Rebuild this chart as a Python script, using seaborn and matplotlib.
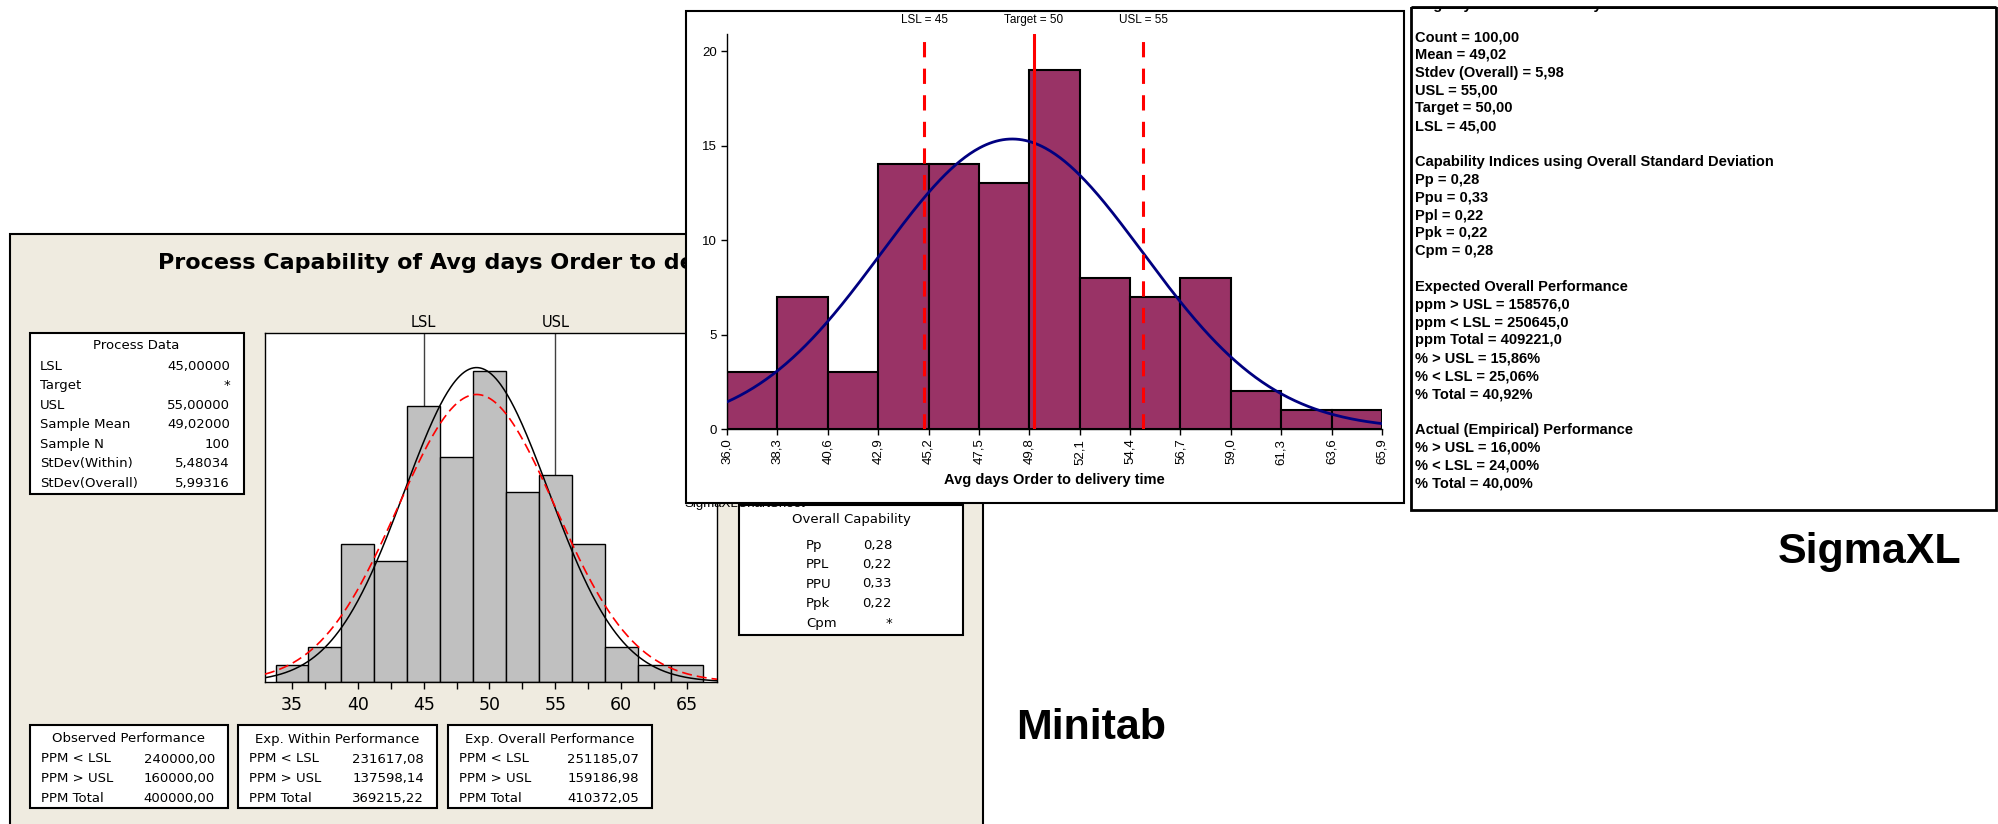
import matplotlib
matplotlib.use("Agg")
import matplotlib.pyplot as plt
import numpy as np
import pandas as pd
import seaborn as sns
from matplotlib.patches import Rectangle
from matplotlib.transforms import blended_transform_factory

W, H = 1998, 824

# --- Minitab capability data ---
mt_midpoints = [35, 37.5, 40, 42.5, 45, 47.5, 50, 52.5, 55, 57.5, 60, 62.5, 65]
mt_counts = [1, 2, 8, 7, 16, 13, 18, 11, 12, 8, 2, 1, 1]
mt_bin_width = 2.5
mt_ticks = [35, 40, 45, 50, 55, 60, 65]
mt_mean = 49.02
mt_sd_within = 5.48034
mt_sd_overall = 5.99316
mt_n = 100

process_labels = ["LSL", "Target", "USL", "Sample Mean", "Sample N", "StDev(Within)", "StDev(Overall)"]
process_values = ["45,00000", "*", "55,00000", "49,02000", "100", "5,48034", "5,99316"]

overall_cap_labels = ["Pp", "PPL", "PPU", "Ppk", "Cpm"]
overall_cap_values = ["0,28", "0,22", "0,33", "0,22", "*"]

perf_titles = ["Observed Performance", "Exp. Within Performance", "Exp. Overall Performance"]
perf_labels = ["PPM < LSL", "PPM > USL", "PPM Total"]
perf_values = [
    ["240000,00", "160000,00", "400000,00"],
    ["231617,08", "137598,14", "369215,22"],
    ["251185,07", "159186,98", "410372,05"],
]

# --- SigmaXL capability data ---
lsl, target, usl = 45, 50, 55
sx_edges = [36.0, 38.3, 40.6, 42.9, 45.2, 47.5, 49.8, 52.1, 54.4, 56.7, 59.0, 61.3, 63.6, 65.9]
sx_counts = [3, 7, 3, 14, 14, 13, 19, 8, 7, 8, 2, 1, 1]
sx_mean = 49.02
sx_sd = 5.98
sx_n = 100
sx_yticks = [0, 5, 10, 15, 20]

sx_report_title = "Avg days Order to delivery time"
sx_report = [
    "Count = 100,00",
    "Mean = 49,02",
    "Stdev (Overall) = 5,98",
    "USL = 55,00",
    "Target = 50,00",
    "LSL = 45,00",
    "",
    "Capability Indices using Overall Standard Deviation",
    "Pp = 0,28",
    "Ppu = 0,33",
    "Ppl = 0,22",
    "Ppk = 0,22",
    "Cpm = 0,28",
    "",
    "Expected Overall Performance",
    "ppm > USL = 158576,0",
    "ppm < LSL = 250645,0",
    "ppm Total = 409221,0",
    "% > USL = 15,86%",
    "% < LSL = 25,06%",
    "% Total = 40,92%",
    "",
    "Actual (Empirical) Performance",
    "% > USL = 16,00%",
    "% < LSL = 24,00%",
    "% Total = 40,00%",
]

MT_FONT = "DejaVu Sans"
SX_FONT = "Liberation Sans"
BEIGE = "#EFEBE0"
PLUM = "#993366"


def px_axes(fig, x0, y0, x1, y1, zorder):
    return fig.add_axes([x0 / W, 1 - y1 / H, (x1 - x0) / W, (y1 - y0) / H], zorder=zorder)


def pixel_layer(fig, zorder):
    ax = px_axes(fig, 0, 0, W, H, zorder)
    ax.set_xlim(0, W)
    ax.set_ylim(H, 0)
    ax.axis("off")
    return ax


def box(ax, x0, y0, x1, y1, fc="white", lw=1.5, ec="black", zorder=1):
    ax.add_patch(Rectangle((x0, y0), x1 - x0, y1 - y0, facecolor=fc,
                           edgecolor=ec, linewidth=lw, clip_on=False, zorder=zorder))


def normal_curve(x, mean, sd, n, width):
    return n * width * np.exp(-0.5 * ((x - mean) / sd) ** 2) / (sd * np.sqrt(2 * np.pi))


sns.set_theme(style="ticks", rc={"text.color": "black", "axes.labelcolor": "black",
                                 "xtick.color": "black", "ytick.color": "black",
                                 "axes.edgecolor": "black"})
plt.rcParams["font.family"] = [SX_FONT, "DejaVu Sans"]

fig = plt.figure(figsize=(W / 100, H / 100), dpi=100, facecolor="white")

# ---------------- Minitab panel ----------------
bg = pixel_layer(fig, 0)
box(bg, 10, 234, 983, 840, fc=BEIGE)
bg.text(158, 269, "Process Capability of Avg days Order to delivery time", family=MT_FONT,
        fontsize=16, fontweight="bold", va="baseline", ha="left")

box(bg, 30, 333, 244, 494)
bg.text(136, 345, "Process Data", family=MT_FONT, fontsize=9.5, ha="center", va="center")
for i, (lab, val) in enumerate(zip(process_labels, process_values)):
    y = 366 + i * 19.5
    bg.text(40, y, lab, family=MT_FONT, fontsize=9.5, va="center", ha="left")
    bg.text(230, y, val, family=MT_FONT, fontsize=9.5, va="center", ha="right")

box(bg, 739, 505, 963, 635)
bg.text(851, 520, "Overall Capability", family=MT_FONT, fontsize=9.5, ha="center", va="center")
for i, (lab, val) in enumerate(zip(overall_cap_labels, overall_cap_values)):
    y = 545 + i * 19.5
    bg.text(806, y, lab, family=MT_FONT, fontsize=9.5, va="center", ha="left")
    bg.text(892, y, val, family=MT_FONT, fontsize=9.5, va="center", ha="right")

perf_boxes = [(30, 228), (238, 437), (448, 652)]
for (x0, x1), title, vals in zip(perf_boxes, perf_titles, perf_values):
    box(bg, x0, 725, x1, 808)
    bg.text((x0 + x1) / 2, 739, title, family=MT_FONT, fontsize=9.5, ha="center", va="center")
    for j, (lab, val) in enumerate(zip(perf_labels, vals)):
        y = 759 + j * 19.6
        bg.text(x0 + 11, y, lab, family=MT_FONT, fontsize=9.5, va="center", ha="left")
        bg.text(x1 - 13, y, val, family=MT_FONT, fontsize=9.5, va="center", ha="right")

bg.text(1016, 739, "Minitab", family=SX_FONT, fontsize=31, fontweight="bold", ha="left", va="baseline")
bg.text(1778, 563, "SigmaXL", family=SX_FONT, fontsize=31, fontweight="bold", ha="left", va="baseline")

ax_mt = px_axes(fig, 265, 333, 717, 682, 1)
mt_df = pd.DataFrame({"days": mt_midpoints, "count": mt_counts})
mt_edges = [m - mt_bin_width / 2 for m in mt_midpoints] + [mt_midpoints[-1] + mt_bin_width / 2]
sns.histplot(data=mt_df, x="days", weights="count", bins=mt_edges, color="#C0C0C0",
             edgecolor="black", linewidth=1, alpha=1, ax=ax_mt)
ax_mt.set_xlim(32.95, 67.28)
ax_mt.set_ylim(0, 20.2)
for spec in (lsl, usl):
    ax_mt.axvline(spec, color="#404040", linewidth=1, zorder=0.5)
xs = np.linspace(32.95, 67.28, 400)
ax_mt.plot(xs, normal_curve(xs, mt_mean, mt_sd_within, mt_n, mt_bin_width), color="black", linewidth=1.1, zorder=3)
ax_mt.plot(xs, normal_curve(xs, mt_mean, mt_sd_overall, mt_n, mt_bin_width), color="red", linewidth=1.2,
           linestyle=(0, (6, 3)), zorder=3)
ax_mt.set_xlabel("")
ax_mt.set_ylabel("")
ax_mt.set_yticks([])
ax_mt.set_xticks(mt_ticks)
ax_mt.set_xticks(mt_midpoints, minor=True)
ax_mt.set_xticklabels([str(t) for t in mt_ticks], family=MT_FONT, fontsize=12.5)
ax_mt.tick_params(axis="x", which="both", direction="out", length=5, width=1, pad=5)
for sp in ax_mt.spines.values():
    sp.set_visible(True)
    sp.set_linewidth(1)
tr = blended_transform_factory(ax_mt.transData, ax_mt.transAxes)
ax_mt.text(lsl, 1.029, "LSL", transform=tr, family=MT_FONT, fontsize=10.5, ha="center", va="center")
ax_mt.text(usl, 1.029, "USL", transform=tr, family=MT_FONT, fontsize=10.5, ha="center", va="center")

# ---------------- SigmaXL panels ----------------
ov = pixel_layer(fig, 2)
# sheet caption mostly hidden under the chart window
ov.text(684, 507, "SigmaXLChartSheet", family=SX_FONT, fontsize=9.5, ha="left", va="baseline", zorder=0.5)
box(ov, 686, 11, 1404, 503)
box(ov, 1411, 7, 1996, 510, lw=2)
# report title: only its descenders show below the window edge
ov.text(1415, 8.5, sx_report_title, family=SX_FONT, fontsize=10.5, fontweight="bold",
        ha="left", va="baseline", zorder=1.5)
box(ov, 1400, -10, 1998, 6.5, lw=0, ec="none", zorder=2)
ov.plot([1411, 1996], [7, 7], color="black", linewidth=2, zorder=3, solid_capstyle="butt")
for i, line in enumerate(sx_report):
    if line:
        ov.text(1415, 37 + i * 17.85, line, family=SX_FONT, fontsize=10.5, fontweight="bold",
                ha="left", va="center", zorder=1.5)

ax_sx = px_axes(fig, 727, 34, 1382, 429, 3)
ax_sx.patch.set_alpha(0)
sx_mids = [(a + b) / 2 for a, b in zip(sx_edges[:-1], sx_edges[1:])]
sns.histplot(x=sx_mids, weights=sx_counts, bins=sx_edges, color=PLUM, edgecolor="black",
             linewidth=1.5, alpha=1, ax=ax_sx)
ax_sx.set_xlim(sx_edges[0], sx_edges[-1])
ax_sx.set_ylim(0, 20.9)
xs = np.linspace(sx_edges[0], sx_edges[-1], 400)
ax_sx.plot(xs, normal_curve(xs, sx_mean, sx_sd, sx_n, sx_edges[1] - sx_edges[0]), color="#000080",
           linewidth=2, zorder=3)
ax_sx.axvline(lsl, color="red", linewidth=2.2, linestyle=(0, (5, 3.7)), zorder=4)
ax_sx.axvline(usl, color="red", linewidth=2.2, linestyle=(0, (5, 3.7)), zorder=4)
ax_sx.axvline(target, color="red", linewidth=2.2, zorder=4)
ax_sx.set_ylabel("")
ax_sx.set_xticks(sx_edges)
ax_sx.set_xticklabels([f"{e:.1f}".replace(".", ",") for e in sx_edges], rotation=90, fontsize=9.5)
ax_sx.set_yticks(sx_yticks)
ax_sx.set_yticklabels([str(t) for t in sx_yticks], fontsize=9.5)
ax_sx.tick_params(direction="out", length=4, width=1, pad=3)
ax_sx.spines["top"].set_visible(False)
ax_sx.spines["right"].set_visible(False)
ax_sx.spines["left"].set_linewidth(1)
ax_sx.spines["bottom"].set_linewidth(1)
ax_sx.set_xlabel("Avg days Order to delivery time", fontsize=10.5, fontweight="bold")
ax_sx.xaxis.set_label_coords(0.5, -0.129)
ax_sx.xaxis.label.set_va("center")
tr = blended_transform_factory(ax_sx.transData, ax_sx.transAxes)
for spec, name in ((lsl, "LSL"), (target, "Target"), (usl, "USL")):
    ax_sx.text(spec, 1.0354, f"{name} = {spec}", transform=tr, fontsize=8.5, ha="center", va="center")

fig.savefig("out.png", dpi=100)
